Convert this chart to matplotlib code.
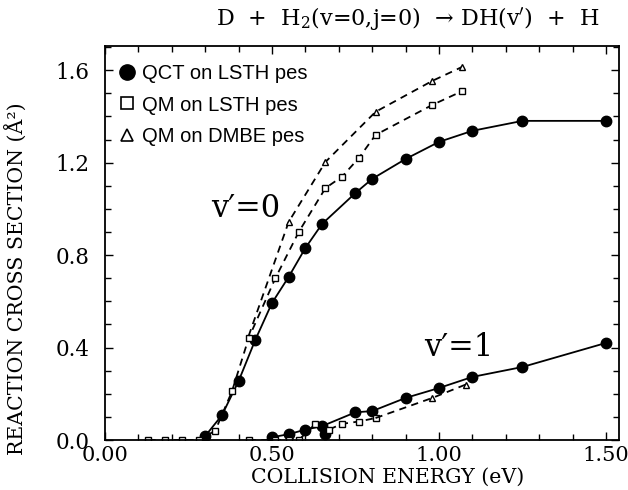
import matplotlib
matplotlib.use("Agg")
import matplotlib.pyplot as plt
from matplotlib.ticker import MultipleLocator, FormatStrFormatter
from matplotlib.lines import Line2D

# ---- data ----
qct_v0_x = [0.30, 0.35, 0.40, 0.45, 0.50, 0.55, 0.60, 0.65, 0.75, 0.80, 0.90, 1.00, 1.10, 1.25, 1.50]
qct_v0_y = [0.017, 0.107, 0.255, 0.433, 0.593, 0.706, 0.831, 0.935, 1.069, 1.130, 1.216, 1.290, 1.338, 1.381, 1.381]

qm_v0_x = [0.13, 0.18, 0.23, 0.28, 0.33, 0.38, 0.43, 0.51, 0.58, 0.66, 0.71, 0.76, 0.81, 0.98, 1.07]
qm_v0_y = [0.0, 0.0, 0.0, 0.0, 0.04, 0.21, 0.44, 0.70, 0.90, 1.09, 1.14, 1.22, 1.32, 1.45, 1.51]

dmbe_v0_x = [0.43, 0.55, 0.66, 0.81, 0.98, 1.07]
dmbe_v0_y = [0.45, 0.944, 1.203, 1.42, 1.554, 1.615]

qct_v1_x = [0.50, 0.55, 0.60, 0.65, 0.75, 0.80, 0.90, 1.00, 1.10, 1.25, 1.50]
qct_v1_y = [0.012, 0.025, 0.045, 0.060, 0.120, 0.125, 0.182, 0.225, 0.273, 0.316, 0.420]
qct_v1_extra_x = [0.66]
qct_v1_extra_y = [0.025]

qm_v1_x = [0.43, 0.51, 0.55, 0.58, 0.63, 0.67, 0.71, 0.76, 0.81]
qm_v1_y = [0.0, 0.0, 0.0, 0.0, 0.07, 0.045, 0.07, 0.08, 0.095]

dmbe_v1_x = [0.81, 0.98, 1.08]
dmbe_v1_y = [0.095, 0.182, 0.240]

legend_labels = ["QCT on LSTH pes", "QM on LSTH pes", "QM on DMBE pes"]
title = "D  +  H$_2$(v=0,j=0)  \u2192 DH(v$'$)  +  H"
xlabel = "COLLISION ENERGY (eV)"
ylabel = "REACTION CROSS SECTION (\u00c5\u00b2)"

# ---- figure ----
plt.rcParams['mathtext.fontset'] = 'dejavuserif'
serif = 'DejaVu Serif'
fig = plt.figure(figsize=(6.28, 4.90), dpi=100)
ax = fig.add_axes([105/628, 50/490, 514/628, 394/490])

lw = 1.3
ax.plot(qct_v0_x, qct_v0_y, '-', color='black', lw=lw, marker='o', ms=7.5, mfc='black', mec='black')
ax.plot(qm_v0_x, qm_v0_y, '--', color='black', lw=lw, dashes=(4, 3), marker='s', ms=4.5, mfc='white', mec='black', mew=1.0)
ax.plot(dmbe_v0_x, dmbe_v0_y, '--', color='black', lw=lw, dashes=(4, 3), marker='^', ms=5, mfc='white', mec='black', mew=1.0, markevery=slice(1, None))

ax.plot(qct_v1_x, qct_v1_y, '-', color='black', lw=lw, marker='o', ms=7.5, mfc='black', mec='black')
ax.plot(qct_v1_extra_x, qct_v1_extra_y, 'o', color='black', ms=7.5)
ax.plot(qm_v1_x, qm_v1_y, '--', color='black', lw=lw, dashes=(4, 3), marker='s', ms=4.5, mfc='white', mec='black', mew=1.0)
ax.plot(dmbe_v1_x, dmbe_v1_y, '--', color='black', lw=lw, dashes=(4, 3), marker='^', ms=5, mfc='white', mec='black', mew=1.0, markevery=slice(1, None))

ax.set_xlim(0, 1.539)
ax.set_ylim(0, 1.705)
ax.xaxis.set_major_locator(MultipleLocator(0.5))
ax.xaxis.set_minor_locator(MultipleLocator(0.1))
ax.yaxis.set_major_locator(MultipleLocator(0.4))
ax.yaxis.set_minor_locator(MultipleLocator(0.1))
ax.xaxis.set_major_formatter(FormatStrFormatter('%.2f'))
ax.yaxis.set_major_formatter(FormatStrFormatter('%.1f'))
ax.tick_params(which='both', direction='in', top=True, right=True, width=1.0)
ax.tick_params(which='major', length=6)
ax.tick_params(which='minor', length=4)
ax.tick_params(axis='x', which='major', pad=4, labelsize=15)
ax.tick_params(axis='y', which='major', pad=11, labelsize=15.5)
for lab in ax.get_xticklabels() + ax.get_yticklabels():
    lab.set_fontfamily(serif)
for sp in ax.spines.values():
    sp.set_linewidth(1.3)

ax.set_xlabel(xlabel, fontfamily=serif, fontsize=14.8)
ax.xaxis.set_label_coords(0.55, -0.07)
ax.set_ylabel(ylabel, fontfamily=serif, fontsize=14.8)
ax.yaxis.set_label_coords(-0.152, 0.41)

fig.text(408/628, 1 - 19/490, title, ha='center', va='center', fontfamily=serif, fontsize=16)

ax.text(0.42, 1.0, "v\u2032=0", ha='center', va='center', fontfamily=serif, fontsize=22)
ax.text(1.06, 0.40, "v\u2032=1", ha='center', va='center', fontfamily=serif, fontsize=22)

handles = [
    Line2D([], [], ls='none', marker='o', ms=11, mfc='black', mec='black'),
    Line2D([], [], ls='none', marker='s', ms=8, mfc='white', mec='black', mew=1.2),
    Line2D([], [], ls='none', marker='^', ms=8, mfc='white', mec='black', mew=1.2),
]
leg = ax.legend(handles, legend_labels, loc='upper left', bbox_to_anchor=(0.0, 0.99),
                frameon=False, handlelength=0.8, handletextpad=0.35, labelspacing=0.62,
                borderaxespad=0.3, prop={'family': 'Liberation Sans', 'size': 14.5})

fig.savefig('out.png', dpi=100)
